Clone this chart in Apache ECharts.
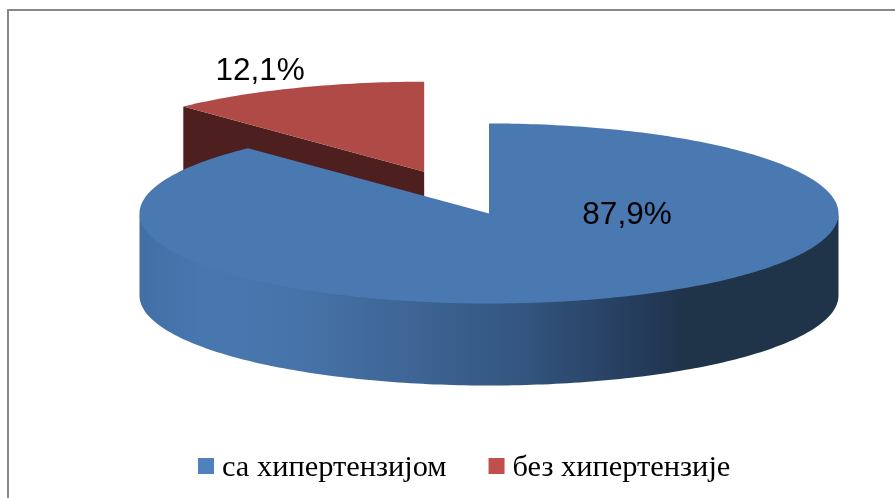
<!DOCTYPE html>
<html><head><meta charset="utf-8">
<style>html,body{margin:0;padding:0;background:#fff}#c{width:895px;height:498px}</style>
<script src="https://cdn.jsdelivr.net/npm/echarts@6/dist/echarts.min.js"></script>
</head><body><div id="c"></div>
<script>
// data
const categories = ['са хипертензијом', 'без хипертензије'];
const values = [87.9, 12.1];

// layout / style
const center = [489, 213.5], rx = 349.5, ry = 90, depth = 82, explode = 0.5;
const labelOffsets = [[138, 1.5], [-164, -100]];
const topColors = ['#4a78b0', '#b04a47'];
const legendColors = ['#4f81bd', '#c0504d'];
const darkRed = '#4d1f1e';
const wallStops = [
  {offset: 0, color: '#416fa5'}, {offset: 0.09, color: '#4877b0'}, {offset: 0.23, color: '#4673a9'},
  {offset: 0.33, color: '#416a9c'}, {offset: 0.39, color: '#3e6595'}, {offset: 0.55, color: '#33557f'},
  {offset: 0.72, color: '#243b5a'}, {offset: 0.78, color: '#1f3349'}, {offset: 1, color: '#1f3349'}
];
const total = values.reduce((a, b) => a + b, 0);

function pt(c, deg, dy) {
  const t = deg * Math.PI / 180;
  return [c[0] + rx * Math.sin(t), c[1] - ry * Math.cos(t) + (dy || 0)];
}
function arc(c, a0, a1, dy) {
  const pts = [], n = Math.max(8, Math.ceil(Math.abs(a1 - a0)));
  for (let i = 0; i <= n; i++) pts.push(pt(c, a0 + (a1 - a0) * i / n, dy));
  return pts;
}
function sliceAngles(idx) {
  let before = 0;
  for (let i = 0; i < idx; i++) before += values[i];
  return [before / total * 360, (before + values[idx]) / total * 360];
}
function fmt(v) { return v.toFixed(1).replace('.', ',') + '%'; }

function renderSlice(params, api) {
  const idx = params.seriesIndex;
  const [a0, a1] = sliceAngles(idx);
  const mid = (a0 + a1) / 2;
  let c = center;
  if (idx === 1) {
    const t = mid * Math.PI / 180;
    c = [center[0] + explode * rx * Math.sin(t), center[1] - explode * ry * Math.cos(t)];
  }
  const children = [];
  if (idx === 0) {
    // side wall: front half of the rim, extruded downward (slightly overlapping the top)
    const wall = arc(c, 270, 90, -1.5).concat(arc(c, 90, 270, depth));
    children.push({type: 'polygon', shape: {points: wall}, style: {
      fill: {type: 'linear', x: 0, y: 0, x2: 1, y2: 0, colorStops: wallStops}
    }});
  } else {
    // cut face between centre and the left edge of the slice
    const edge = pt(c, a0, 0);
    children.push({type: 'polygon', shape: {points: [c, edge, [edge[0], edge[1] + depth], [c[0], c[1] + depth]]}, style: {fill: darkRed}});
  }
  const top = [c].concat(arc(c, a0, a1, 0));
  children.push({type: 'polygon', shape: {points: top}, style: {fill: topColors[idx]}});
  children.push({type: 'text', style: {
    x: c[0] + labelOffsets[idx][0], y: c[1] + labelOffsets[idx][1],
    text: fmt(api.value(0)), fill: '#000', align: 'center', verticalAlign: 'middle',
    font: '31.5px "Liberation Sans", Arial, sans-serif'
  }});
  return {type: 'group', children};
}

const chart = echarts.init(document.getElementById('c'), null, {renderer: 'canvas'});
chart.setOption({
  animation: false,
  backgroundColor: '#fff',
  color: legendColors,
  legend: {
    data: categories, left: 193, top: 448, itemWidth: 16, itemHeight: 20, itemGap: 42,
    icon: 'path://M0 0h16v16h-16z M0 20h0', selectedMode: false,
    textStyle: {fontFamily: '"Liberation Serif", serif', fontSize: 30.4, color: '#000', padding: [0, 0, 0, 3]}
  },
  graphic: [
    {type: 'polyline', z: 0, shape: {points: [[8, 498], [8, 10], [895, 10]]}, style: {stroke: '#888', lineWidth: 2, fill: null}}
  ],
  series: categories.map((name, i) => ({
    type: 'custom', name, coordinateSystem: 'none', z: i === 0 ? 3 : 2,
    data: [[values[i]]], renderItem: renderSlice, silent: true
  }))
});
</script></body></html>
